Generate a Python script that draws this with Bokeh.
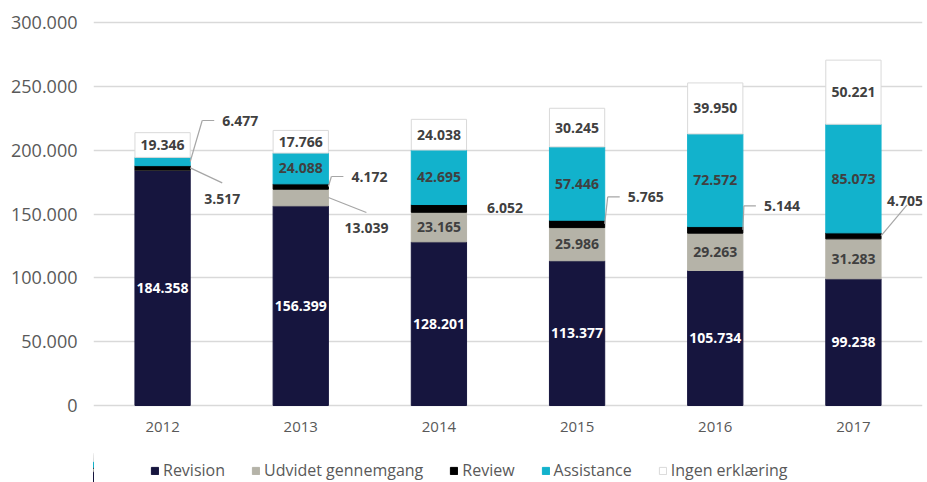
from bokeh.plotting import figure
from bokeh.models import (ColumnDataSource, Range1d, FixedTicker, Legend, LegendItem)
from bokeh.layouts import column
from bokeh.embed import file_html
from bokeh.resources import INLINE
from bokeh.core.properties import value

# ---------------- data ----------------
years = ["2012", "2013", "2014", "2015", "2016", "2017"]
series = ["Revision", "Udvidet gennemgang", "Review", "Assistance", "Ingen erklæring"]
revision = [184358, 156399, 128201, 113377, 105734, 99238]
udvidet = [0, 13039, 23165, 25986, 29263, 31283]
review = [3517, 4172, 6052, 5765, 5144, 4705]
assistance = [6477, 24088, 42695, 57446, 72572, 85073]
ingen = [19346, 17766, 24038, 30245, 39950, 50221]
y_ticks = [0, 50000, 100000, 150000, 200000, 250000, 300000]
y_tick_labels = ["0", "50.000", "100.000", "150.000", "200.000", "250.000", "300.000"]

# ---------------- style ----------------
colors = ["#16153e", "#b5b3a8", "#000000", "#12b2cc", "#ffffff"]
lines = ["#16153e", "#b5b3a8", "#000000", "#12b2cc", "#d9d9d9"]
FONT = "Open Sans"
TXT = "#404040"
AX = "#595959"

TOTAL_W = 927
BL, BR, BT, BB = 93, 5, 20, 43
FW, FH = 829, 387
LEG_H = 32
YMAX = 300000
N = len(years)
PXX = N / FW              # data units per pixel (x)
PXY = YMAX / (FH - 4)     # data units per pixel (y)
BAR_W = 0.4

def fmt(v):
    return f"{v:,}".replace(",", ".")

p = figure(frame_width=FW, frame_height=FH, output_backend="svg", toolbar_location=None,
           x_range=Range1d(0, N), y_range=Range1d(-2 * PXY, YMAX + 2 * PXY),
           min_border_left=BL, min_border_right=BR, min_border_top=BT, min_border_bottom=BB)
p.outline_line_color = None

xs = [i + 0.5 for i in range(N)]
data_cols = [revision, udvidet, review, assistance, ingen]
src = ColumnDataSource(dict(x=xs, **{f"s{k}": col for k, col in enumerate(data_cols)}))
stack_cols = [f"s{k}" for k in range(5)]

renderers = p.vbar_stack(stack_cols, x="x", width=BAR_W, source=src,
                         fill_color=colors, line_color=lines, line_width=1)

# axes
p.xgrid.grid_line_color = None
p.ygrid.grid_line_color = "#d9d9d9"
p.ygrid.grid_line_width = 1.5
p.yaxis.ticker = FixedTicker(ticks=y_ticks)
p.yaxis.major_label_overrides = {t: l for t, l in zip(y_ticks, y_tick_labels)}
p.xaxis.ticker = FixedTicker(ticks=xs)
p.xaxis.major_label_overrides = {x: y for x, y in zip(xs, years)}
for ax in (p.xaxis[0], p.yaxis[0]):
    ax.axis_line_color = None
    ax.major_tick_line_color = None
    ax.minor_tick_line_color = None
    ax.major_tick_out = 0
    ax.major_tick_in = 0
    ax.major_label_text_font = FONT
    ax.major_label_text_color = AX
p.yaxis.major_label_text_font_size = "18px"
p.yaxis.major_label_standoff = 16
p.xaxis.major_label_text_font_size = "15px"
p.xaxis.major_label_standoff = 14

# ---------------- labels ----------------
in_x, in_y, in_t, in_c = [], [], [], []
lx, ly_, lt = [], [], []
cx, cy, ct = [], [], []
seg_x0, seg_y0, seg_x1, seg_y1 = [], [], [], []

# outside label layout: (series index, year index) -> (kind, dy_px, bend_px)
outside = {
    (3, 0): ("up", 41, 12), (2, 0): ("down", 31, 0),
    (2, 1): ("up", 10, 3), (1, 1): ("down", 30, 0),
    (2, 2): ("none", 0, 0),
    (2, 3): ("up", 27, 3),
    (2, 4): ("up", 24, 1),
    (2, 5): ("diag", 34, 0),
}

for i in range(N):
    base = 0
    right = xs[i] + BAR_W / 2
    for k, col in enumerate(data_cols):
        v = col[i]
        mid = base + v / 2
        base += v
        if v <= 0:
            continue
        if (k, i) not in outside:
            in_x.append(xs[i]); in_y.append(mid); in_t.append(fmt(v))
            in_c.append("white" if k == 0 else TXT)
            continue
        kind, dy, bend = outside[(k, i)]
        if kind == "up":
            yl = mid + dy * PXY
            seg_x0 += [right, right + bend * PXX]
            seg_y0 += [mid, yl]
            seg_x1 += [right + bend * PXX, right + (bend + 12) * PXX]
            seg_y1 += [yl, yl]
            lx.append(right + (bend + 20) * PXX); ly_.append(yl); lt.append(fmt(v))
        elif kind == "down":
            yl = mid - 15 * PXY
            ext = 32 if k == 2 else 38
            seg_x0.append(right); seg_y0.append(mid)
            seg_x1.append(right + ext * PXX); seg_y1.append(yl)
            cx.append(right + ext * PXX); cy.append(mid - dy * PXY); ct.append(fmt(v))
        elif kind == "diag":
            yl = mid + (dy - 3) * PXY
            seg_x0.append(right); seg_y0.append(mid)
            seg_x1.append(right + 26 * PXX); seg_y1.append(yl)
            cx.append(right + 24 * PXX); cy.append(mid + (dy + 1) * PXY); ct.append(fmt(v))
        else:
            cx.append(xs[i] + 66 * PXX); cy.append(mid); ct.append(fmt(v))

p.segment(x0=seg_x0, y0=seg_y0, x1=seg_x1, y1=seg_y1, line_color="#a6a6a6", line_width=1.2)

common = dict(text_color=TXT, text_baseline="middle", text_font=value(FONT),
              text_font_size="14px", text_font_style="bold")
p.text(x=in_x, y=in_y, text=in_t, text_align="center",
       **{**common, "text_color": in_c})
p.text(x=lx, y=ly_, text=lt, text_align="left", **common)
p.text(x=cx, y=cy, text=ct, text_align="center", **common)

# ---------------- legend (separate strip below the chart) ----------------
# same stacked bars drawn here but scrolled out of view; only the legend shows
pl = figure(width=TOTAL_W, height=LEG_H, output_backend="svg", toolbar_location=None,
            x_axis_type=None, y_axis_type=None,
            x_range=Range1d(3 * N, 4 * N), y_range=Range1d(0, YMAX), min_border=0)
pl.outline_line_color = None
leg_r = pl.vbar_stack(stack_cols, x="x", width=BAR_W, source=src,
                      fill_color=colors, line_color=lines, line_width=1)
legend = Legend(items=[LegendItem(label=s, renderers=[r], index=0) for s, r in zip(series, leg_r)],
                orientation="horizontal", location=(57, 1),
                label_text_font=FONT, label_text_font_size="16px", label_text_color=AX,
                glyph_width=9, glyph_height=9, label_height=16, label_standoff=4, spacing=26,
                padding=0, margin=0,
                border_line_color=None, background_fill_alpha=0)
pl.add_layout(legend, "center")

open("out.html", "w").write(file_html(column(p, pl, spacing=0), INLINE))
